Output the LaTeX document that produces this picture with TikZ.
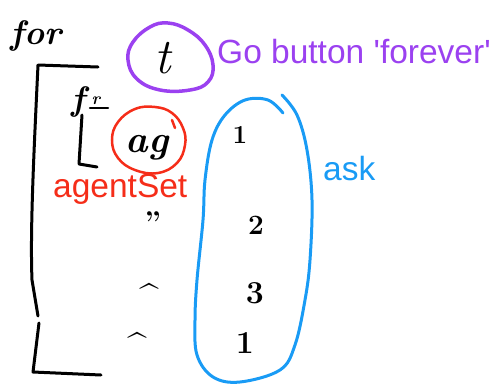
\documentclass[tikz,border=0pt]{standalone}
\usepackage{fontspec}
\newfontfamily\labfont{Liberation Sans}[Ligatures=TeXOff]
\definecolor{pur}{RGB}{155,65,240}
\definecolor{rd}{RGB}{245,45,25}
\definecolor{bl}{RGB}{25,155,245}
\begin{document}
\begin{tikzpicture}[x=1pt,y=-1pt,
  hand/.style={inner sep=0pt, anchor=base},
  lab/.style={font=\labfont\fontsize{33.5}{38}\selectfont, inner sep=0pt, anchor=base west},
  ink/.style={line width=3pt, line cap=round, line join=round},
]
\useasboundingbox (0,0) rectangle (497,383);
% handwritten texts
\node[hand, font=\itshape\bfseries\fontsize{34}{36}\selectfont] (for) at (36,44) {for};
\node[hand, font=\itshape\fontsize{50}{52}\selectfont] (t) at (163,73) {t};
\node[hand, font=\itshape\bfseries\fontsize{34}{36}\selectfont] (f) at (78,110) {f};
\node[hand, font=\itshape\bfseries\fontsize{17}{17}\selectfont] (r) at (96,104) {r};
\node[hand, font=\itshape\bfseries\fontsize{38}{40}\selectfont] (ag) at (147,152) {ag};
\node[hand, font=\bfseries\fontsize{26}{28}\selectfont] (n1) at (240,143) {1};
\node[hand, font=\bfseries\fontsize{28}{30}\selectfont] (n2) at (256,234) {2};
\node[hand, font=\bfseries\fontsize{32}{34}\selectfont] (n3) at (255,303) {3};
\node[hand, font=\bfseries\fontsize{32}{34}\selectfont] (n4) at (245,353) {1};
\node[inner sep=0pt, font=\bfseries\fontsize{30}{32}\selectfont] (d1) at (153,222) {''};
\node[inner sep=0pt, font=\bfseries\fontsize{34}{36}\selectfont] (d2) at (149,296) {\^{}};
\node[inner sep=0pt, font=\bfseries\fontsize{34}{36}\selectfont] (d3) at (137,345) {\^{}};
% typed labels
\node[lab, text=pur] (go) at (217,63) {Go button 'forever'};
\node[lab, text=rd] (agset) at (53,197) {agentSet};
\node[lab, text=bl] (ask) at (323,180) {ask};
% outer bracket
\draw[ink] (98,67) -- (38,65) .. controls (34,150) and (30,230) .. (32,280) -- (38,316);
\draw[ink] (39,323) -- (33,372) -- (101,375);
% underline of fr and inner bracket
\draw[ink, line width=2.5pt] (90,108) -- (108,108);
\draw[ink] (82,115) -- (79,164) -- (97,167);
% purple loop round t
\draw[pur, line width=3.5pt, line cap=round] plot[smooth cycle, tension=0.7] coordinates
  {(150,27) (133,42) (128,60) (137,79) (160,90) (190,90) (208,82) (213,65) (205,45) (188,30) (168,23)};
% red loop round ag
\draw[rd, line width=2.5pt, line cap=round] plot[smooth cycle, tension=0.7] coordinates
  {(118,122) (135,109) (155,107) (172,113) (183,128) (185,145) (177,163) (158,173) (135,170) (118,158) (112,140)};
\draw[rd, line width=2.5pt, line cap=round] (172,120) -- (175,128);
% blue loop
\draw[bl, line width=3pt, line cap=round] plot[smooth, tension=0.6] coordinates
  {(282,95) (297,115) (307,150) (312,200) (310,260) (305,300) (295,345) (280,370) (240,382) (213,377) (197,355) (195,320) (197,280) (203,220) (205,180) (212,140) (225,115) (245,100) (268,100) (283,113)};
\end{tikzpicture}
\end{document}
